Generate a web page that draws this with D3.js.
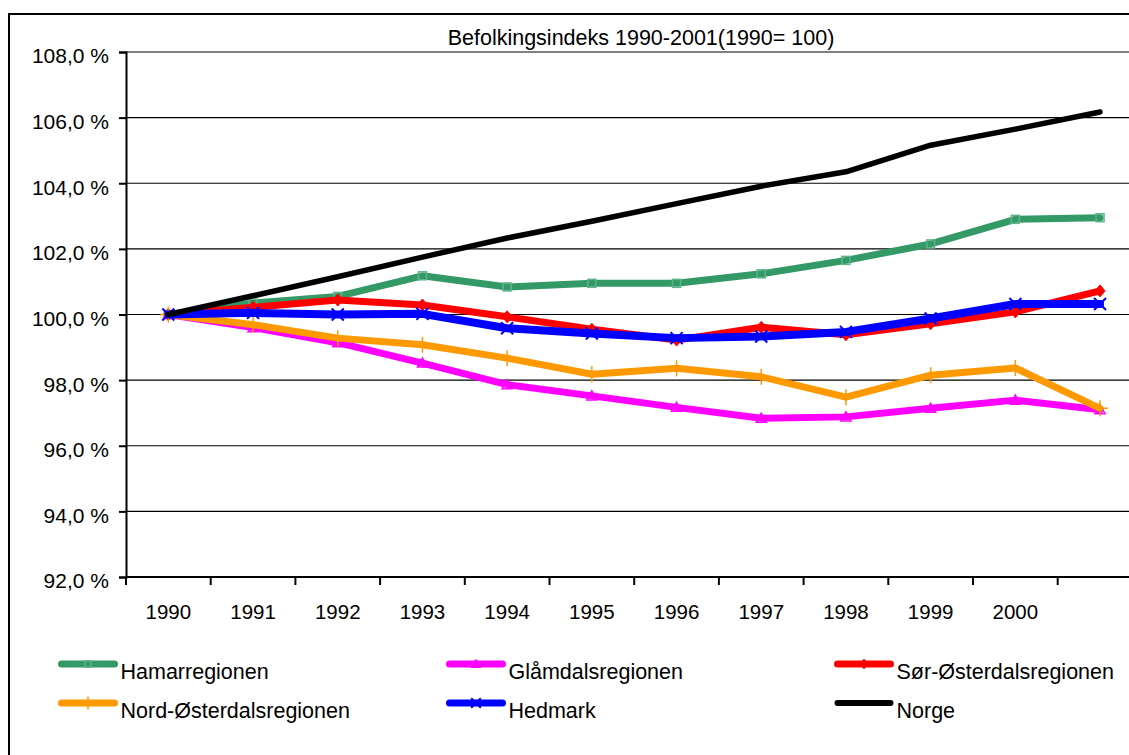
<!DOCTYPE html>
<html>
<head>
<meta charset="utf-8">
<script src="https://cdn.jsdelivr.net/npm/d3@7"></script>
<style>
  body { margin: 0; background: #fff; }
  svg text { font-family: "Liberation Sans", Arial, sans-serif; fill: #000; }
</style>
</head>
<body>
<svg id="chart" width="1129" height="755"></svg>
<script>
// categories and tick labels (last category has no label in the original)
var years = ['1990','1991','1992','1993','1994','1995','1996','1997','1998','1999','2000','2001'];
var yearLabels = ['1990','1991','1992','1993','1994','1995','1996','1997','1998','1999','2000',''];
var yTicks = [92, 94, 96, 98, 100, 102, 104, 106, 108];

// series values (index, 1990 = 100)
var hamar    = [100, 100.35, 100.55, 101.18, 100.84, 100.95, 100.95, 101.24, 101.65, 102.15, 102.9, 102.95];
var glamdal  = [100, 99.6, 99.14, 98.52, 97.86, 97.52, 97.17, 96.84, 96.88, 97.14, 97.39, 97.1];
var sorOst   = [100, 100.22, 100.44, 100.29, 99.93, 99.55, 99.22, 99.61, 99.38, 99.72, 100.08, 100.72];
var nordOst  = [100, 99.69, 99.28, 99.08, 98.67, 98.18, 98.36, 98.1, 97.48, 98.15, 98.37, 97.14];
var hedmark  = [100, 100.05, 100.0, 100.02, 99.58, 99.42, 99.28, 99.33, 99.47, 99.88, 100.32, 100.32];
var norge    = [100, 100.57, 101.15, 101.75, 102.33, 102.84, 103.38, 103.91, 104.35, 105.16, 105.65, 106.17];

var seriesNames  = ['Hamarregionen','Glåmdalsregionen','Sør-Østerdalsregionen','Nord-Østerdalsregionen','Hedmark','Norge'];
var seriesValues = [hamar, glamdal, sorOst, nordOst, hedmark, norge];

var svg = d3.select('#chart');
var padding = {l: 126, t: 52, r: 1142.4, b: 577};

var series = seriesNames.map(function(name, i){
    return {name: name, values: seriesValues[i]};
});
var styles = {
    'Hamarregionen':         {color: '#339966', marker: 'square',   width: 7},
    'Glåmdalsregionen':      {color: '#ff00ff', marker: 'triangle', width: 7},
    'Sør-Østerdalsregionen': {color: '#ff0000', marker: 'diamond',  width: 7},
    'Nord-Østerdalsregionen':{color: '#ff9900', marker: 'plus',     width: 7},
    'Hedmark':               {color: '#0000ff', marker: 'cross',    width: 8},
    'Norge':                 {color: '#000000', marker: null,       width: 5.5}
};

// outer frame
svg.append('rect')
    .attr('x', 9).attr('y', 14)
    .attr('width', 1140).attr('height', 760)
    .attr('fill', 'none')
    .attr('stroke', '#000')
    .attr('stroke-width', 2);

var xScale = d3.scaleBand()
    .domain(years)
    .range([padding.l, padding.r])
    .padding(0);
var yScale = d3.scaleLinear()
    .domain([92, 108])
    .range([padding.b, padding.t]);

// gridlines
svg.append('g').selectAll('line')
    .data(yTicks.filter(function(d){ return d > 92; }))
    .enter()
    .append('line')
    .attr('x1', padding.l).attr('x2', 1129)
    .attr('y1', function(d){ return yScale(d); })
    .attr('y2', function(d){ return yScale(d); })
    .attr('stroke', function(d){ return d === 108 ? '#808080' : '#000'; })
    .attr('stroke-width', function(d){ return d === 108 ? 2 : 1.2; });

// y axis
var yAxis = d3.axisLeft(yScale)
    .tickValues(yTicks)
    .tickSize(7)
    .tickPadding(10)
    .tickFormat(function(d){ return d.toFixed(1).replace('.', ',') + ' %'; });
var yAxisG = svg.append('g')
    .attr('transform', 'translate(' + padding.l + ',0)')
    .call(yAxis);
yAxisG.select('.domain').attr('stroke', '#000').attr('stroke-width', 2);
yAxisG.selectAll('.tick line').attr('stroke', '#000').attr('stroke-width', 2);
yAxisG.selectAll('.tick text')
    .style('font-size', '21px')
    .attr('dy', '0.52em')
    .attr('font-family', null);

// x axis: ticks at category boundaries, labels centred
var xAxisG = svg.append('g')
    .attr('transform', 'translate(0,' + padding.b + ')');
xAxisG.append('line')
    .attr('x1', padding.l).attr('x2', 1129)
    .attr('y1', 0).attr('y2', 0)
    .attr('stroke', '#000').attr('stroke-width', 2);
xAxisG.selectAll('.xtick')
    .data(years)
    .enter()
    .append('line')
    .attr('class', 'xtick')
    .attr('x1', function(d){ return xScale(d); })
    .attr('x2', function(d){ return xScale(d); })
    .attr('y1', 0).attr('y2', 8)
    .attr('stroke', '#000').attr('stroke-width', 2);
xAxisG.selectAll('.xlabel')
    .data(years)
    .enter()
    .append('text')
    .attr('class', 'xlabel')
    .attr('text-anchor', 'middle')
    .attr('x', function(d){ return xScale(d) + xScale.bandwidth()/2; })
    .attr('y', 42)
    .style('font-size', '20.5px')
    .text(function(d, i){ return yearLabels[i]; });

// title
svg.append('text')
    .attr('text-anchor', 'middle')
    .attr('x', 641)
    .attr('y', 45)
    .style('font-size', '21.5px')
    .text('Befolkingsindeks 1990-2001(1990= 100)');

// marker shapes
function drawMarker(g, type, color, size){
    var s = size || 1;
    if(type === 'square'){
        g.append('rect').attr('x', -4*s).attr('y', -4*s).attr('width', 8*s).attr('height', 8*s)
            .attr('fill', 'none').attr('stroke', '#5fb38a').attr('stroke-width', 1.5);
    } else if(type === 'triangle'){
        g.append('path').attr('d', 'M0,' + (-5*s) + 'L' + (5*s) + ',' + (4*s) + 'L' + (-5*s) + ',' + (4*s) + 'Z')
            .attr('fill', 'none').attr('stroke', color).attr('stroke-width', 1.5);
    } else if(type === 'diamond'){
        g.append('path').attr('d', 'M0,' + (-6*s) + 'L' + (5*s) + ',0L0,' + (6*s) + 'L' + (-5*s) + ',0Z')
            .attr('fill', color).attr('stroke', color).attr('stroke-width', 1);
    } else if(type === 'plus'){
        g.append('path').attr('d', 'M0,' + (-8*s) + 'V' + (8*s) + 'M' + (-8*s) + ',0H' + (8*s))
            .attr('stroke', color).attr('stroke-width', 1.5);
    } else if(type === 'cross'){
        g.append('path').attr('d', 'M' + (-6*s) + ',' + (-6*s) + 'L' + (6*s) + ',' + (6*s) + 'M' + (6*s) + ',' + (-6*s) + 'L' + (-6*s) + ',' + (6*s))
            .attr('stroke', color).attr('stroke-width', 2);
    }
}

var line = d3.line()
    .x(function(d, i){ return xScale(years[i]) + xScale.bandwidth()/2; })
    .y(function(d){ return yScale(d); });

var seriesG = svg.selectAll('.series')
    .data(series)
    .enter()
    .append('g')
    .attr('class', 'series');

seriesG.append('path')
    .attr('d', function(d){ return line(d.values); })
    .attr('fill', 'none')
    .attr('stroke', function(d){ return styles[d.name].color; })
    .attr('stroke-width', function(d){ return styles[d.name].width; })
    .attr('stroke-linejoin', 'round')
    .attr('stroke-linecap', 'round');

seriesG.each(function(s){
    var st = styles[s.name];
    if(!st.marker) return;
    var grp = d3.select(this);
    s.values.forEach(function(v, i){
        var m = grp.append('g')
            .attr('transform', 'translate(' + (xScale(years[i]) + xScale.bandwidth()/2) + ',' + yScale(v) + ')');
        drawMarker(m, st.marker, st.color, 1);
    });
});

// legend (3 columns x 2 rows)
var legendPos = [
    {x: 61.5,  y: 664}, {x: 449.5, y: 664}, {x: 837.5, y: 664},
    {x: 61.5,  y: 703}, {x: 449.5, y: 703}, {x: 837.5, y: 703}
];
var legend = svg.selectAll('.legendItem')
    .data(series)
    .enter()
    .append('g')
    .attr('class', 'legendItem')
    .attr('transform', function(d, i){ return 'translate(' + legendPos[i].x + ',' + legendPos[i].y + ')'; });

legend.append('line')
    .attr('x1', 0).attr('x2', 53)
    .attr('y1', 0).attr('y2', 0)
    .attr('stroke', function(d){ return styles[d.name].color; })
    .attr('stroke-width', function(d){ return d.name === 'Norge' ? 6 : 7; })
    .attr('stroke-linecap', 'round');

legend.each(function(d){
    var st = styles[d.name];
    if(!st.marker) return;
    var m = d3.select(this).append('g').attr('transform', 'translate(26.5,0)');
    drawMarker(m, st.marker, st.color, 0.8);
});

legend.append('text')
    .attr('x', 59)
    .attr('y', 15)
    .style('font-size', '21.5px')
    .text(function(d){ return d.name; });
</script>
</body>
</html>
